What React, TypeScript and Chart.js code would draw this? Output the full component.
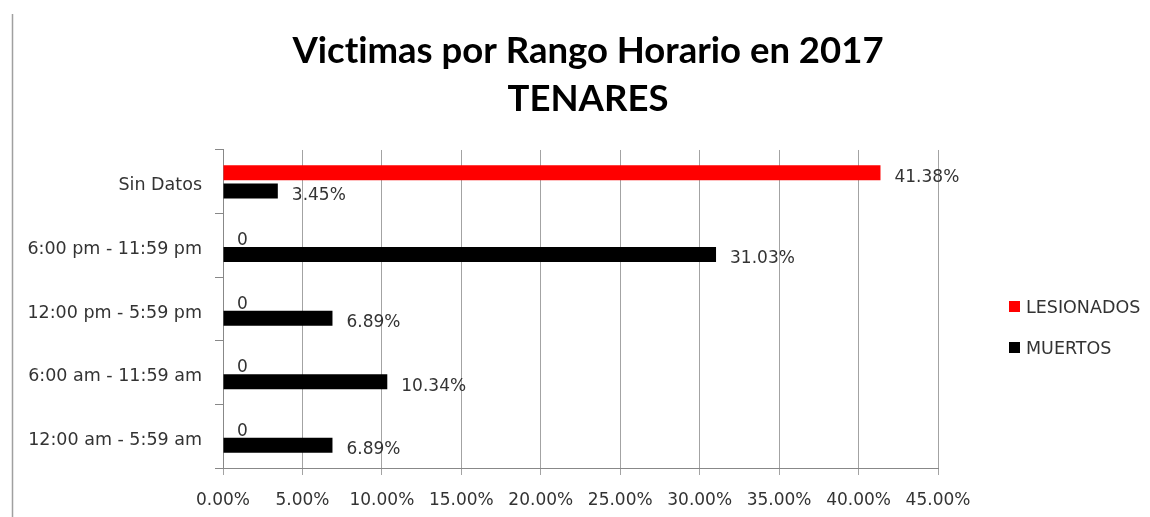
import React, { useEffect, useRef } from 'react';
import { Chart, registerables } from 'chart.js';

Chart.register(...registerables);

const categories = [
  'Sin Datos',
  '6:00 pm - 11:59 pm',
  '12:00 pm - 5:59 pm',
  '6:00 am - 11:59 am',
  '12:00 am - 5:59 am',
];
const lesionados = [41.38, 0, 0, 0, 0];
const muertos = [3.45, 31.03, 6.89, 10.34, 6.89];
const seriesNames = ['LESIONADOS', 'MUERTOS'];
const seriesColors = ['#ff0000', '#000000'];
const titleLines = ['Victimas por Rango Horario en 2017', 'TENARES'];
const xMin = 0;
const xMax = 45;
const xStep = 5;

const TEXT = '#333333';
const NUM_FONT = { family: '"DejaVu Sans", Verdana, sans-serif', size: 17 };
const LABEL_FONT = { family: '"DejaVu Sans", Verdana, sans-serif', size: 17.5 };

const fmtPct = (v: number) => (v === 0 ? '0' : v.toFixed(2) + '%');

const pageLinePlugin = {
  id: 'pageLine',
  beforeDraw(chart: any) {
    const ctx = chart.ctx;
    try {
      (ctx as any).textRendering = 'optimizeSpeed';
    } catch (e) {
      /* ignore */
    }
    ctx.save();
    ctx.strokeStyle = '#a0a0a0';
    ctx.lineWidth = 1.5;
    ctx.beginPath();
    ctx.moveTo(12.5, 14);
    ctx.lineTo(12.5, chart.height);
    ctx.stroke();
    ctx.restore();
  },
};

const dataLabelPlugin = {
  id: 'dataLabels',
  afterDatasetsDraw(chart: any) {
    const ctx = chart.ctx;
    ctx.save();
    ctx.font = `${NUM_FONT.size}px ${NUM_FONT.family}`;
    ctx.fillStyle = TEXT;
    ctx.textAlign = 'left';
    ctx.textBaseline = 'middle';
    chart.data.datasets.forEach((ds: any, di: number) => {
      const meta = chart.getDatasetMeta(di);
      meta.data.forEach((el: any, i: number) => {
        const v = ds.data[i] as number;
        ctx.fillText(fmtPct(v), el.x + 14, el.y + 4.5);
      });
    });
    ctx.restore();
  },
};

const legendPlugin = {
  id: 'customLegend',
  afterDraw(chart: any) {
    const ctx = chart.ctx;
    ctx.save();
    ctx.font = `${LABEL_FONT.size}px ${LABEL_FONT.family}`;
    ctx.textAlign = 'left';
    ctx.textBaseline = 'middle';
    const x0 = 1009;
    const y0 = 306;
    const gap = 41;
    chart.data.datasets.forEach((ds: any, i: number) => {
      const cy = y0 + i * gap;
      ctx.fillStyle = ds.backgroundColor;
      ctx.fillRect(x0, cy - 5, 11, 11);
      ctx.fillStyle = TEXT;
      ctx.fillText(ds.label, x0 + 17, cy + 2);
    });
    ctx.restore();
  },
};

export default function App() {
  const ref = useRef<HTMLCanvasElement | null>(null);

  useEffect(() => {
    if (!ref.current) return;
    const chart = new Chart(ref.current, {
      type: 'bar',
      data: {
        labels: categories,
        datasets: [
          { label: seriesNames[0], data: lesionados, backgroundColor: seriesColors[0] },
          { label: seriesNames[1], data: muertos, backgroundColor: seriesColors[1] },
        ],
      },
      options: {
        indexAxis: 'y',
        responsive: true,
        maintainAspectRatio: false,
        animation: false,
        layout: { padding: { left: 27, right: 1, top: 0, bottom: 0 } },
        datasets: { bar: { categoryPercentage: 0.575, barPercentage: 0.82 } } as any,
        scales: {
          x: {
            type: 'linear',
            position: 'bottom',
            min: xMin,
            max: xMax,
            ticks: {
              stepSize: xStep,
              callback: (v: any) => Number(v).toFixed(2) + '%',
              font: NUM_FONT,
              color: TEXT,
              padding: 15,
            },
            grid: { color: '#a3a3a3', tickLength: 7, drawTicks: true },
            border: { color: '#888888' },
            afterFit: (s: any) => {
              s.height = 49;
            },
          },
          y: {
            type: 'category',
            grid: { drawOnChartArea: false, drawTicks: true, tickLength: 8, color: '#888888' },
            border: { color: '#888888' },
            ticks: { font: LABEL_FONT, color: TEXT, padding: 13, labelOffset: 4 },
            afterFit: (s: any) => {
              s.width = 196;
            },
          },
          yR: {
            type: 'category',
            position: 'right',
            display: true,
            grid: { display: false },
            border: { display: false },
            ticks: { display: false },
            afterFit: (s: any) => {
              s.width = 211;
            },
          },
        } as any,
        plugins: {
          legend: { display: false },
          tooltip: { enabled: false },
          title: {
            display: true,
            text: titleLines,
            color: '#000000',
            font: { family: 'Lato, sans-serif', weight: 'bold', size: 36.5, lineHeight: 1.315 },
            padding: { top: 27, bottom: 27 },
          },
        },
      } as any,
      plugins: [pageLinePlugin, dataLabelPlugin, legendPlugin],
    });
    return () => chart.destroy();
  }, []);

  return (
    <div style={{ position: 'fixed', left: 0, top: 0, width: 1150, height: 517, background: '#fff' }}>
      <canvas ref={ref} />
    </div>
  );
}
